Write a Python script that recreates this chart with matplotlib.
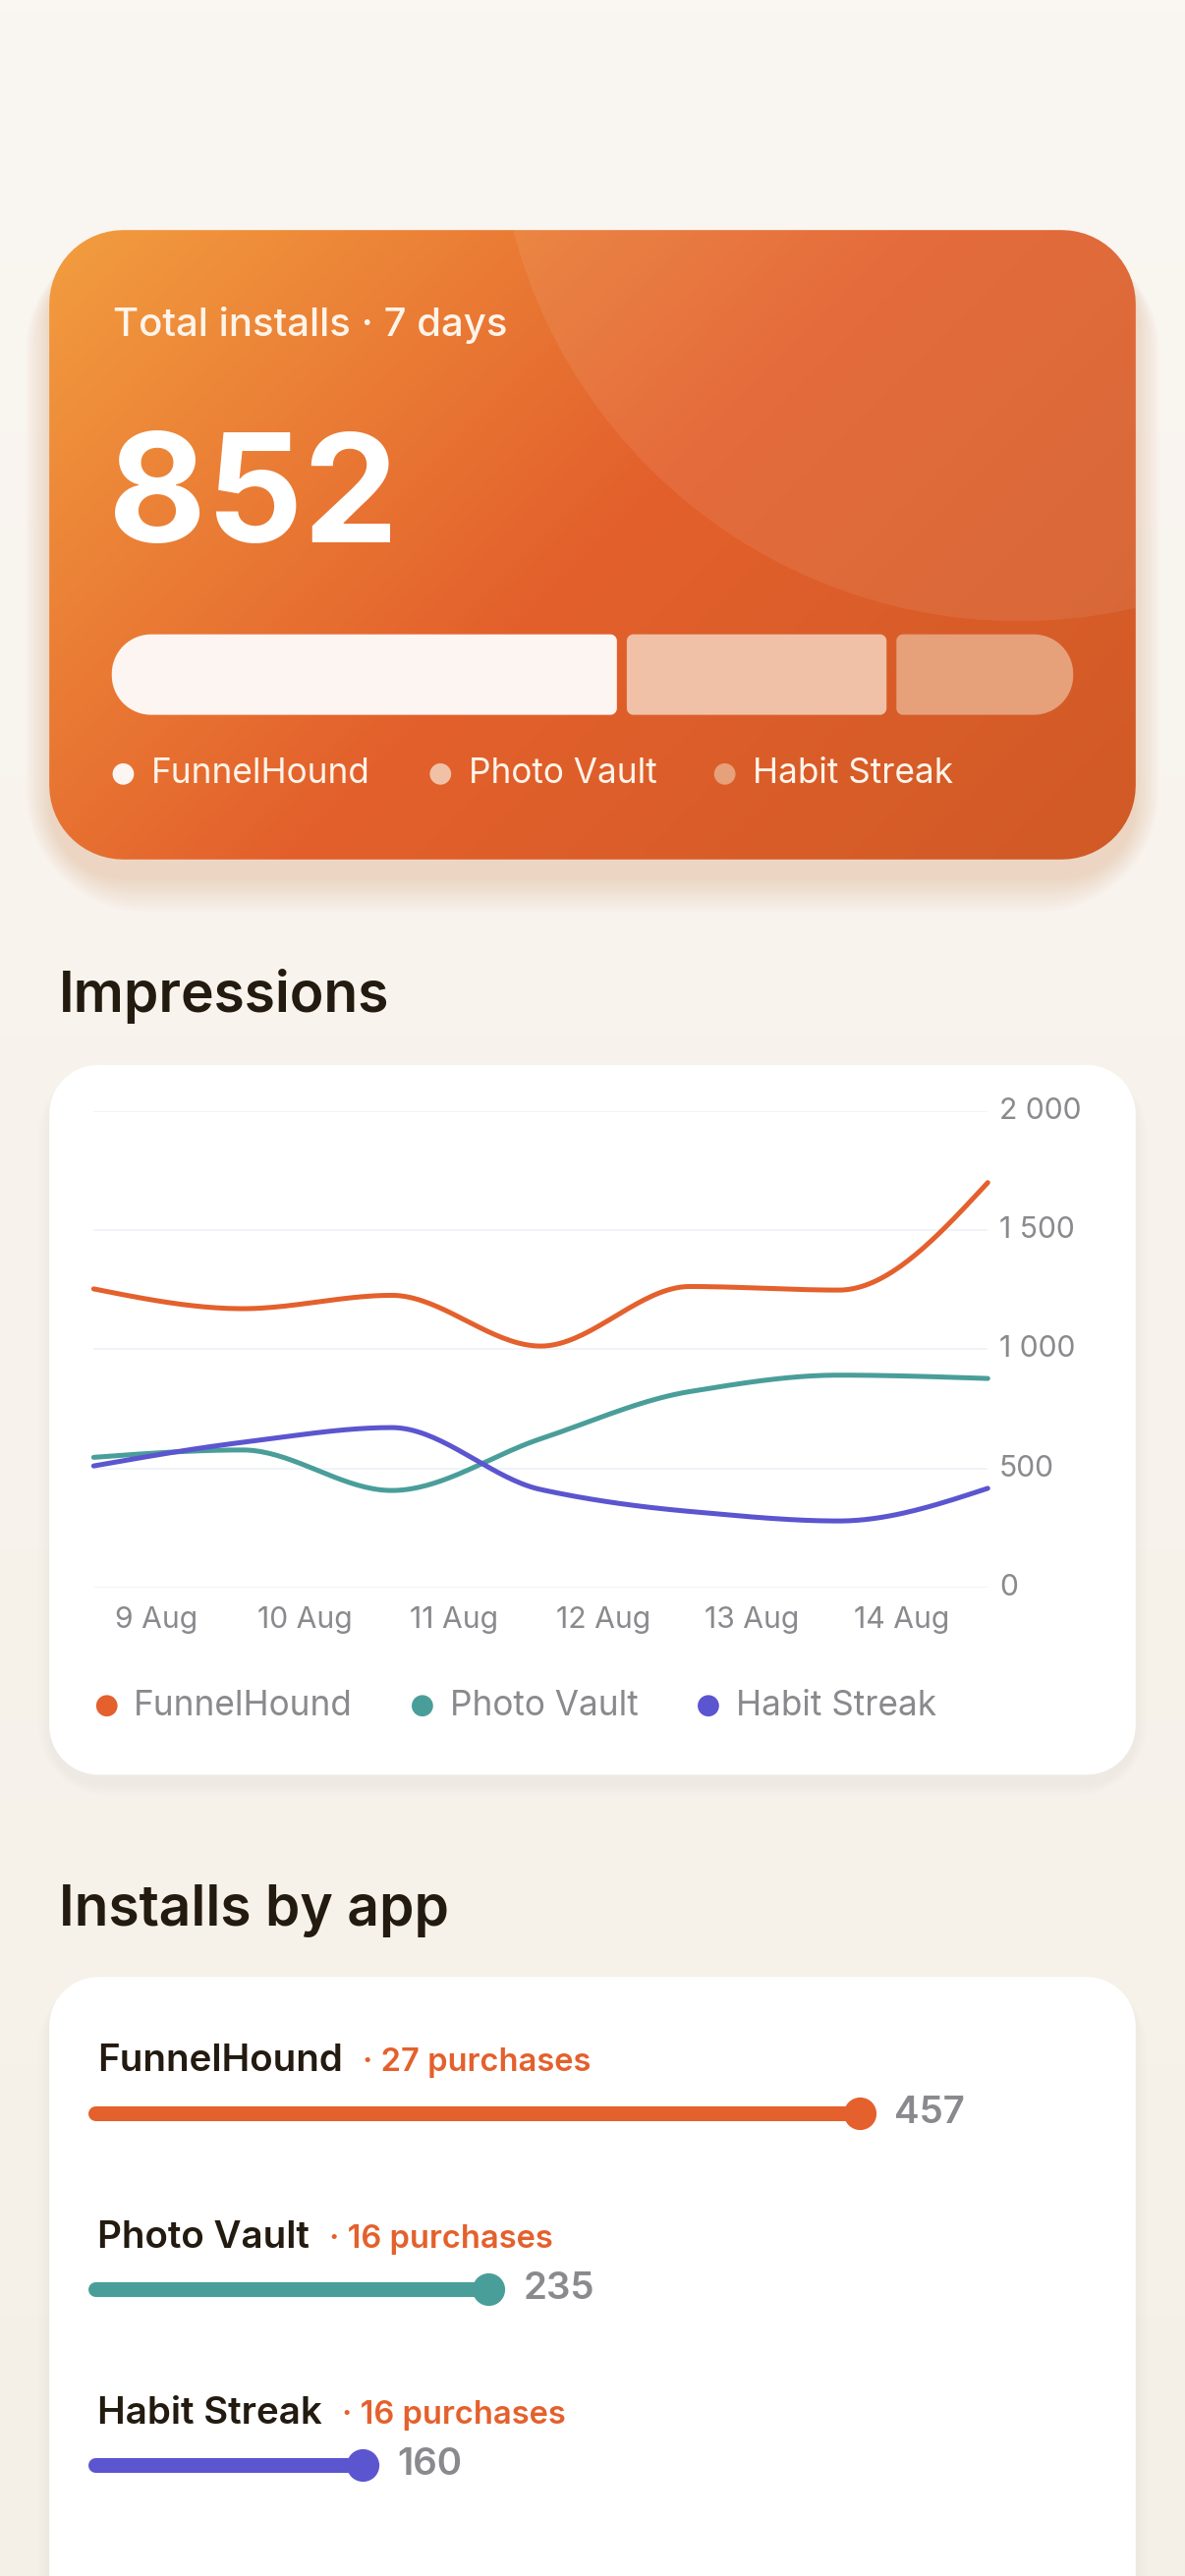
import numpy as np
import matplotlib
matplotlib.use("Agg")
import matplotlib.pyplot as plt
from matplotlib.patches import Polygon, Circle
from matplotlib.colors import LinearSegmentedColormap

# ---------------- data ----------------
apps = ["FunnelHound", "Photo Vault", "Habit Streak"]
installs = [457, 235, 160]
purchases = [27, 16, 16]
total_installs = 852
days = ["9 Aug", "10 Aug", "11 Aug", "12 Aug", "13 Aug", "14 Aug", "15 Aug"]
impr_funnel = [1253, 1170, 1226, 1013, 1263, 1248, 1699]
impr_photo = [546, 577, 407, 624, 822, 891, 877]
impr_habit = [510, 609, 671, 411, 319, 279, 416]
y_ticks = [0, 500, 1000, 1500, 2000]
y_tick_labels = ["0", "500", "1 000", "1 500", "2 000"]

ORANGE = "#E4602C"; TEAL = "#4A9E9A"; PURPLE = "#5B55D0"
DARK = "#231A10"; GRAY = "#8A8A8E"
FONT = ["Inter", "DejaVu Sans"]
plt.rcParams["font.family"] = FONT

W, HPX = 1206, 2622
Wd = 721.0
Hd = Wd * HPX / W
S = W / Wd
PT = S * 0.72  # display px -> points

fig = plt.figure(figsize=(W / 100, HPX / 100), dpi=100)
bg = fig.add_axes([0, 0, 1, 1])
bg.set_xlim(0, Wd); bg.set_ylim(Hd, 0); bg.axis("off")

# background gradient
grad = np.linspace(0, 1, 256)[:, None]
bgcm = LinearSegmentedColormap.from_list("bg", ["#FAF6F1", "#F5F0E7"])
bg.imshow(grad, cmap=bgcm, extent=(0, Wd, Hd, 0), aspect="auto", zorder=0)


def rrect(x0, y0, x1, y1, tl, tr, br, bl, n=16):
    pts = []
    for (cx, cy, r, a0) in [(x0 + tl, y0 + tl, tl, 180), (x1 - tr, y0 + tr, tr, 270),
                            (x1 - br, y1 - br, br, 0), (x0 + bl, y1 - bl, bl, 90)]:
        a = np.radians(np.linspace(a0, a0 + 90, n))
        pts += list(zip(cx + r * np.cos(a), cy + r * np.sin(a)))
    return np.array(pts)


def card(x0, y0, x1, y1, r, **kw):
    p = Polygon(rrect(x0, y0, x1, y1, r, r, r, r), closed=True, **kw)
    bg.add_patch(p)
    return p

# shadows
for i in range(14):
    g = i * 2.2
    card(30 - g * 0.5, 140 + 10 - g * 0.3, 691 + g * 0.5, 523 + 12 + g * 0.7, 45 + g,
         facecolor="#EC8A55", edgecolor="none", alpha=0.018, zorder=1)
for (y0, y1) in [(648, 1080), (1203, 1640)]:
    for i in range(8):
        g = i * 2
        card(30 - g * 0.5, y0 + 4 - g * 0.3, 691 + g * 0.5, y1 + 6 + g * 0.5, 30 + g,
             facecolor="#C8B8A0", edgecolor="none", alpha=0.012, zorder=1)

# top card with gradient
top = card(30, 140, 691, 523, 45, facecolor="none", edgecolor="none", zorder=2)
xx, yy = np.meshgrid(np.linspace(0, 1, 300), np.linspace(0, 1, 300))
t = (xx * 661 + yy * 383) / (661 + 383)
cm = LinearSegmentedColormap.from_list("o", [(0, "#F29D3F"), (0.5, "#E3602C"), (1, "#D05A26")])
im = bg.imshow(t, cmap=cm, extent=(30, 691, 523, 140), aspect="auto", zorder=3, vmin=0, vmax=1)
im.set_clip_path(top)
circ = Circle((620, 60), 318, facecolor="white", alpha=0.08, edgecolor="none", zorder=4)
bg.add_patch(circ); circ.set_clip_path(top)

CREAM = "#FFF4EA"
bg.text(69, 198, "Total installs · 7 days", color=CREAM, fontsize=24 * PT,
        fontweight="medium", va="center", ha="left", zorder=5)
bg.text(66, 330, f"{total_installs}", color="white", fontsize=92 * PT,
        fontweight="bold", va="baseline", ha="left", zorder=5)

# stacked bar
bx0, bx1, by0, by1, gap = 68, 653, 386, 435, 6
seg_cols = ["#FDF5F1", "#F0C1A6", "#E6A07A"]
avail = (bx1 - bx0) - gap * (len(installs) - 1)
x = bx0
for i, v in enumerate(installs):
    w = avail * v / sum(installs)
    big, small = 24, 4
    tl = bl = big if i == 0 else small
    tr = br = big if i == len(installs) - 1 else small
    bg.add_patch(Polygon(rrect(x, by0, x + w, by1, tl, tr, br, bl), closed=True,
                         facecolor=seg_cols[i], edgecolor="none", zorder=5))
    x += w + gap

for xd, xt, name, c in zip([75, 268, 441], [92, 285, 458], apps, seg_cols):
    bg.add_patch(Circle((xd, 471), 6.5, facecolor=c, edgecolor="none", zorder=5))
    bg.text(xt, 471, name, color=CREAM, fontsize=21 * PT, va="center", ha="left", zorder=5)

# section titles
bg.text(36, 606, "Impressions", color=DARK, fontsize=34 * PT, fontweight="semibold",
        va="center", ha="left", zorder=5)
bg.text(36, 1163, "Installs by app", color=DARK, fontsize=34 * PT, fontweight="semibold",
        va="center", ha="left", zorder=5)

# white cards
card(30, 648, 691, 1080, 30, facecolor="white", edgecolor="none", zorder=2)
card(30, 1203, 691, 1640, 30, facecolor="white", edgecolor="none", zorder=2)


# ---------------- line chart ----------------
def fig_rect(x0, y0, x1, y1):
    return [x0 / Wd, 1 - y1 / Hd, (x1 - x0) / Wd, (y1 - y0) / Hd]

ax = fig.add_axes(fig_rect(57, 676, 601, 966))
ax.set_xlim(0, len(days) - 1); ax.set_ylim(0, 2000)
ax.patch.set_alpha(0)
for s in ax.spines.values():
    s.set_visible(False)
ax.tick_params(length=0)
for v in y_ticks:
    ax.axhline(v, color="#EEF2F7", lw=1.2, zorder=1)
ax.set_yticks([]); ax.set_xticks([])
for v, lab in zip(y_ticks, y_tick_labels):
    ax.annotate(lab, (1, v), xycoords=("axes fraction", "data"), xytext=(7 * PT, 0),
                textcoords="offset points", ha="left", va="center", color=GRAY,
                fontsize=18 * PT, annotation_clip=False)
for i, lab in enumerate(days[:-1]):
    ax.annotate(lab, (i + 0.42, 0), xycoords="data", xytext=(0, -20 * PT),
                textcoords="offset points", ha="center", va="center", color=GRAY,
                fontsize=18 * PT, annotation_clip=False)


def monotone(xs, ys, n=40):
    xs = np.asarray(xs, float); ys = np.asarray(ys, float)
    h = np.diff(xs); d = np.diff(ys) / h
    m = np.zeros_like(ys)
    for k in range(1, len(ys) - 1):
        if d[k - 1] * d[k] > 0:
            m[k] = 3 * (h[k - 1] + h[k]) / ((2 * h[k] + h[k - 1]) / d[k - 1] + (h[k] + 2 * h[k - 1]) / d[k])
    m[0] = (3 * d[0] - m[1]) / 2 if len(ys) > 2 else d[0]
    m[-1] = (3 * d[-1] - m[-2]) / 2
    X, Y = [], []
    for k in range(len(xs) - 1):
        s = np.linspace(0, 1, n)
        h00 = 2 * s**3 - 3 * s**2 + 1; h10 = s**3 - 2 * s**2 + s
        h01 = -2 * s**3 + 3 * s**2; h11 = s**3 - s**2
        X += list(xs[k] + s * h[k])
        Y += list(h00 * ys[k] + h10 * h[k] * m[k] + h01 * ys[k + 1] + h11 * h[k] * m[k + 1])
    return X, Y

xs = np.arange(len(days))
for ys, c in [(impr_photo, TEAL), (impr_habit, PURPLE), (impr_funnel, ORANGE)]:
    X, Y = monotone(xs, ys)
    ax.plot(X, Y, color=c, lw=3 * PT, solid_capstyle="round", zorder=3, clip_on=False)

for xd, xt, name, c in zip([65, 257, 431], [81, 274, 448], apps, [ORANGE, TEAL, PURPLE]):
    bg.add_patch(Circle((xd, 1038), 6.5, facecolor=c, edgecolor="none", zorder=5))
    bg.text(xt, 1038, name, color=GRAY, fontsize=21 * PT, va="center", ha="left", zorder=5)

# ---------------- installs by app ----------------
bx = fig.add_axes(fig_rect(58, 1203, 567, Hd))
bx.set_xlim(0, 500); bx.set_ylim(Hd, 1203)
bx.axis("off"); bx.patch.set_alpha(0)
row_name_y = [1254, 1362, 1469]
row_bar_y = [1286, 1393, 1500]
bar_cols = [ORANGE, TEAL, PURPLE]
fig.canvas.draw()
rend = fig.canvas.get_renderer()
for name, v, p, yn, yb, c in zip(apps, installs, purchases, row_name_y, row_bar_y, bar_cols):
    tname = bg.text(59, yn, name, color=DARK, fontsize=23 * PT, fontweight="semibold",
                    va="center", ha="left", zorder=5)
    ext = tname.get_window_extent(rend)
    xend = bg.transData.inverted().transform((ext.x1, ext.y0))[0]
    bg.text(xend + 12, yn + 1, f"· {p} purchases", color=ORANGE, fontsize=19.5 * PT,
            fontweight="semibold", va="center", ha="left", zorder=5)
    bx.plot([0, v], [yb, yb], color=c, lw=9 * PT, solid_capstyle="round", zorder=3, clip_on=False)
    bx.plot([v], [yb], "o", color=c, ms=19 * PT, zorder=4, clip_on=False)
    bx.annotate(f"{v}", (v, yb), xytext=(21 * PT, 0), textcoords="offset points",
                ha="left", va="center", color=GRAY, fontsize=23 * PT, fontweight="semibold",
                annotation_clip=False)

fig.savefig("out.png", dpi=100)
